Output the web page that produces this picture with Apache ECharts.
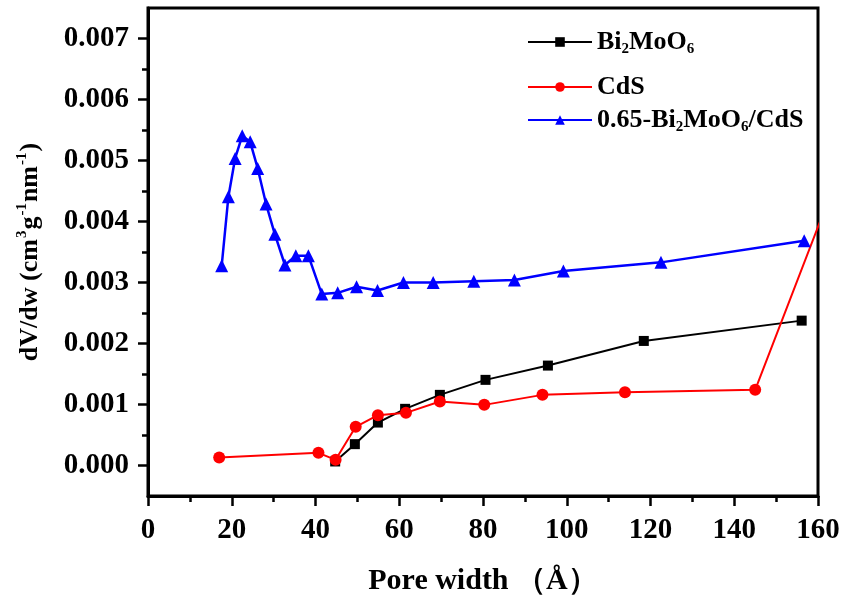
<!DOCTYPE html>
<html><head><meta charset="utf-8">
<script src="https://cdn.jsdelivr.net/npm/echarts@6/dist/echarts.min.js"></script>
<style>html,body{margin:0;padding:0;background:#fff}#c{width:843px;height:598px}</style>
</head><body><div id="c"></div>
<script>
var bmoX = [44.7, 49.4, 54.9, 61.4, 69.7, 80.6, 95.5, 118.4, 156.1];
var bmoY = [0.000066, 0.00035, 0.000704, 0.000929, 0.001158, 0.001404, 0.001638, 0.002042, 0.002375];
var cdsX = [17.0, 40.7, 44.8, 49.6, 54.9, 61.6, 69.7, 80.3, 94.2, 113.9, 145.0, 172.0];
var cdsY = [0.000131, 0.000208, 0.000093, 0.000634, 0.000825, 0.000863, 0.001048, 0.000994, 0.001158, 0.001202, 0.00124, 0.00605];
var compX = [17.6, 19.2, 20.8, 22.5, 24.4, 26.2, 28.2, 30.3, 32.7, 35.3, 38.3, 41.5, 45.3, 49.8, 54.8, 61.0, 68.1, 77.8, 87.5, 99.2, 122.5, 156.7];
var compY = [0.003276, 0.004406, 0.005034, 0.005404, 0.005306, 0.00487, 0.004286, 0.00379, 0.003287, 0.00344, 0.00344, 0.00281, 0.00283, 0.00293, 0.00287, 0.0030, 0.0030, 0.00302, 0.00304, 0.00319, 0.00333, 0.003685];
var seriesNames = ['Bi2MoO6', 'CdS', '0.65-Bi2MoO6/CdS'];
var xMajor = [0, 20, 40, 60, 80, 100, 120, 140, 160];
var xMinor = [10, 30, 50, 70, 90, 110, 130, 150];
var yMajor = [0, 0.001, 0.002, 0.003, 0.004, 0.005, 0.006, 0.007];
var yMinor = [0.0005, 0.0015, 0.0025, 0.0035, 0.0045, 0.0055, 0.0065];

function zip(a, b) { return a.map(function (v, i) { return [v, b[i]]; }); }
var FF = "'Liberation Serif','Times New Roman',serif";
var chart = echarts.init(document.getElementById('c'));
var base = { fontFamily: FF, fontWeight: 'bold', color: '#000' };
function axisBase(extra) { return Object.assign({ type: 'value', splitLine: { show: false } }, extra); }
function legendFor(name, top) {
  return {
    orient: 'vertical', left: 522, top: top, itemWidth: 64, itemHeight: 12,
    data: [name],
    formatter: function (n) { return n.replace(/Bi2MoO6/g, 'Bi{sub|2}MoO{sub|6}'); },
    textStyle: { fontFamily: FF, fontWeight: 'bold', fontSize: 26, color: '#000',
      rich: { sub: { fontFamily: FF, fontWeight: 'bold', fontSize: 15, color: '#000', padding: [15, 0, 0, 0] } } }
  };
}
chart.setOption({
  animation: false,
  backgroundColor: '#fff',
  grid: { left: 148, right: 25, top: 8, bottom: 102, show: true, borderColor: '#000', borderWidth: 3, containLabel: false, outerBoundsMode: 'none' },
  legend: [legendFor(seriesNames[0], 24), legendFor(seriesNames[1], 69), legendFor(seriesNames[2], 102)],
  xAxis: [
    axisBase({ min: 0, max: 160, name: 'Pore width （Å）', nameLocation: 'middle', nameGap: 70,
      nameTextStyle: Object.assign({ fontSize: 30 }, base),
      axisLine: { onZero: false, lineStyle: { color: '#000', width: 3 } },
      axisTick: { customValues: xMajor, length: 10, lineStyle: { color: '#000', width: 2.5 } },
      axisLabel: Object.assign({ customValues: xMajor, fontSize: 29, margin: 20 }, base) }),
    axisBase({ min: 0, max: 160, position: 'bottom', axisLine: { show: false, onZero: false },
      axisTick: { customValues: xMinor, length: 6, lineStyle: { color: '#000', width: 2.5 } },
      axisLabel: { show: false } })
  ],
  yAxis: [
    axisBase({ min: -0.0005, max: 0.0075, name: 'dV/dw (cm{sup|3}g{sup|-1}nm{sup|-1})', nameLocation: 'middle', nameGap: 102,
      nameTextStyle: Object.assign({ fontSize: 26, rich: { sup: { fontFamily: FF, fontWeight: 'bold', fontSize: 15, color: '#000', padding: [0, 1, 16, 1] } } }, base),
      axisLine: { onZero: false, lineStyle: { color: '#000', width: 3 } },
      axisTick: { customValues: yMajor, length: 10, lineStyle: { color: '#000', width: 2.5 } },
      axisLabel: Object.assign({ customValues: yMajor, fontSize: 29, margin: 19, formatter: function (v) { return v.toFixed(3); } }, base) }),
    axisBase({ min: -0.0005, max: 0.0075, position: 'left', axisLine: { show: false, onZero: false },
      axisTick: { customValues: yMinor, length: 6, lineStyle: { color: '#000', width: 2.5 } },
      axisLabel: { show: false } })
  ],
  series: [
    { name: seriesNames[0], type: 'line', data: zip(bmoX, bmoY), symbol: 'rect', symbolSize: 10, color: '#000', lineStyle: { width: 2 }, clip: true },
    { name: seriesNames[1], type: 'line', data: zip(cdsX, cdsY), symbol: 'circle', symbolSize: 12, color: '#ff0000', lineStyle: { width: 2 }, clip: true },
    { name: seriesNames[2], type: 'line', data: zip(compX, compY), symbol: 'triangle', symbolSize: 13, color: '#0000ff', lineStyle: { width: 2.5 }, clip: true }
  ]
});
</script></body></html>
